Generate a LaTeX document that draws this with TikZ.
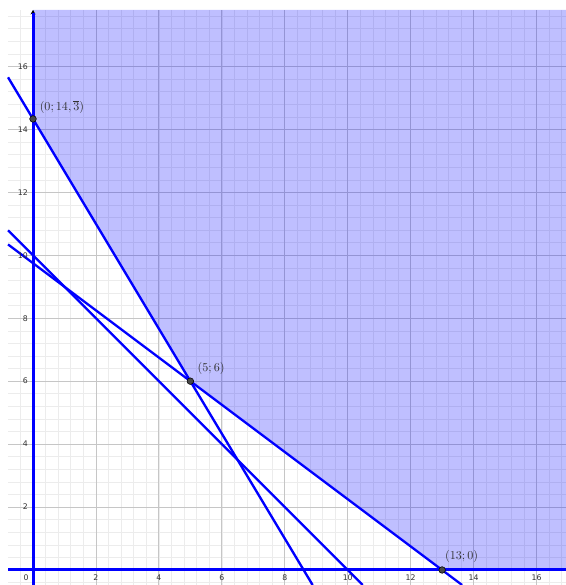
\documentclass[tikz,border=0pt]{standalone}
\usepackage{fontspec}
\newfontfamily\tickfont{DejaVu Sans}
\usetikzlibrary{arrows.meta}
\definecolor{minorgrid}{RGB}{236,236,236}
\definecolor{majorgrid}{RGB}{198,198,198}
\definecolor{ticktext}{RGB}{50,50,50}
\tikzset{
  minorline/.style={draw=minorgrid, line width=0.5pt},
  majorline/.style={draw=majorgrid, line width=0.75pt},
  constraint/.style={draw=blue, line width=2.1pt},
  axisline/.style={draw=blue, line width=2.7pt},
  region/.style={fill=blue, fill opacity=0.25},
  tick/.style={font=\tickfont\fontsize{7}{8}\selectfont, text=ticktext, inner sep=0pt},
  vertex/.style={circle, fill=black!72, draw=black, line width=0.5pt, minimum size=0.21cm, inner sep=0pt},
  ptlabel/.style={font=\fontsize{10.5}{12}\selectfont, text=black!80, inner sep=0pt}
}
\begin{document}
\begin{tikzpicture}[x=1cm,y=1cm]
\useasboundingbox (-1.049,-0.477) rectangle (16.937,18.113);
\fill[white] (-1.049,-0.477) rectangle (16.937,18.113);
\def\L{-0.794}\def\T{17.795}\def\R{16.937}\def\B{-0.477}
\begin{scope}
\clip (\L,\B) rectangle (\R,\T);
\draw[minorline, step=0.4] (\L,\B) grid (\R,\T);
\draw[majorline, step=2] (\L,\B) grid (\R,\T);
\end{scope}
% shaded feasible region
\coordinate (A) at (0,14.3333);
\coordinate (P) at (5,6);
\coordinate (C) at (13,0);
\fill[region] (0,\T) -- (A) -- (P) -- (C) -- (\R,0) -- (\R,\T) -- cycle;
% black axes (under the blue lines)
\coordinate (ybot) at (0,\B);
\coordinate (ytop) at (0,\T);
\coordinate (xleft) at (\L,0);
\coordinate (xright) at (\R,0);
\draw[black, line width=0.8pt, -{Stealth[length=4pt,width=4.5pt]}] (ybot) -- (ytop);
% constraint lines
\coordinate (l1a) at (\L,15.6567);
\coordinate (l1b) at (8.8862,\B);
\coordinate (l2a) at (\L,10.3455);
\coordinate (l2b) at (13.636,\B);
\coordinate (l3a) at (\L,10.794);
\coordinate (l3b) at (10.477,\B);
\draw[constraint] (l1a) -- (l1b);
\draw[constraint] (l2a) -- (l2b);
\draw[constraint] (l3a) -- (l3b);
\draw[axisline] (ybot) -- (0,17.70);
\draw[axisline] (xleft) -- (xright);
% tick labels
\node[tick] (t0) at (-0.22,-0.254) {0};
\foreach \v in {2,4,...,16} {
  \node[tick] (tx\v) at (\v,-0.254) {\v};
  \node[tick, anchor=east] (ty\v) at (-0.16,\v) {\v};
}
% vertices
\node[vertex] (vA) at (A) {};
\node[vertex] (vP) at (P) {};
\node[vertex] (vC) at (C) {};
\node[ptlabel] (lA) at (0.92,14.71) {$(0;14,\overline{3})$};
\node[ptlabel] (lP) at (5.66,6.39) {$(5;6)$};
\node[ptlabel] (lC) at (13.62,0.44) {$(13;0)$};
\end{tikzpicture}
\end{document}
